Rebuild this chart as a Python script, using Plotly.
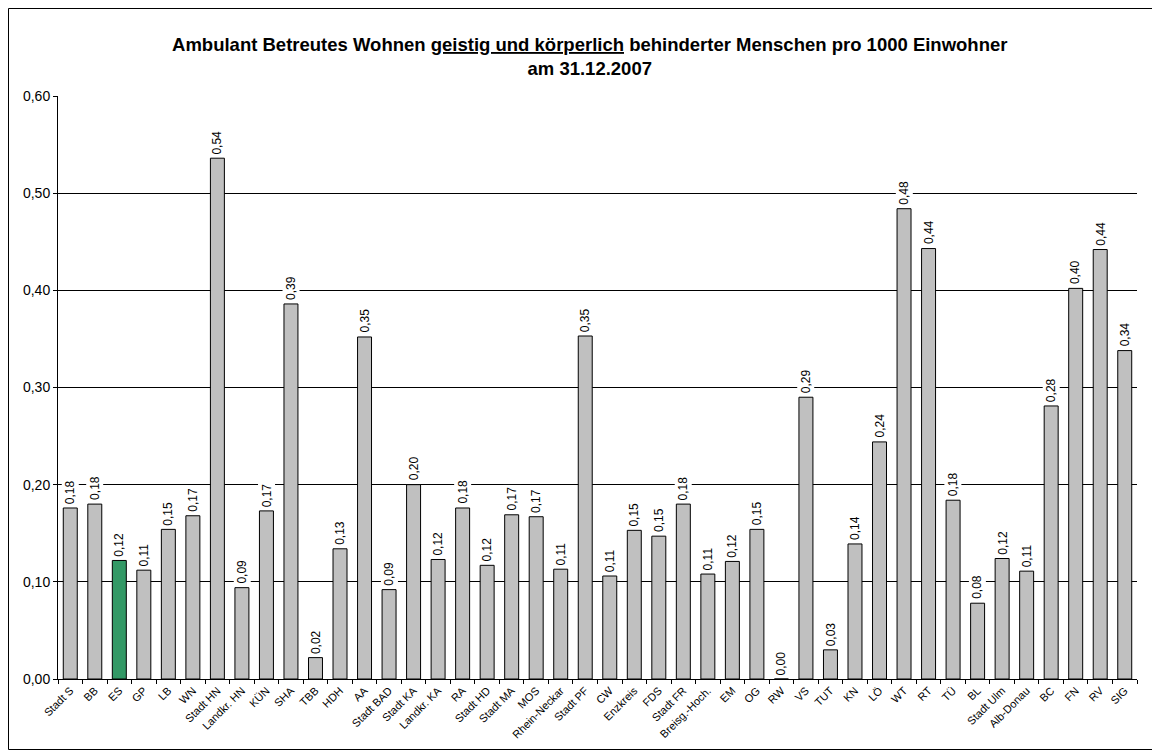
import plotly.graph_objects as go

categories = ["Stadt S", "BB", "ES", "GP", "LB", "WN", "Stadt HN", "Landkr. HN", "KÜN", "SHA",
              "TBB", "HDH", "AA", "Stadt BAD", "Stadt KA", "Landkr. KA", "RA", "Stadt HD", "Stadt MA", "MOS",
              "Rhein-Neckar", "Stadt PF", "CW", "Enzkreis", "FDS", "Stadt FR", "Breisg.-Hoch.", "EM", "OG", "RW",
              "VS", "TUT", "KN", "LÖ", "WT", "RT", "TÜ", "BL", "Stadt Ulm", "Alb-Donau",
              "BC", "FN", "RV", "SIG"]
values = [0.176, 0.180, 0.122, 0.112, 0.154, 0.168, 0.536, 0.094, 0.173, 0.386,
          0.022, 0.134, 0.352, 0.092, 0.200, 0.123, 0.176, 0.117, 0.169, 0.167,
          0.113, 0.353, 0.106, 0.153, 0.147, 0.180, 0.108, 0.121, 0.154, 0.000,
          0.290, 0.030, 0.139, 0.244, 0.484, 0.443, 0.184, 0.078, 0.124, 0.111,
          0.281, 0.402, 0.442, 0.338]
highlight = "ES"
y_ticks = [0.0, 0.1, 0.2, 0.3, 0.4, 0.5, 0.6]

FONT = "Liberation Sans, Arial, sans-serif"
# page has an 8px body margin: figure is sized to fit the window
W, H = 1152, 745
ml, mr, mt, mb = 50, 23, 88, 74

colors = ["#339966" if c == highlight else "#C0C0C0" for c in categories]

fig = go.Figure()
fig.add_trace(go.Bar(
    x=categories, y=values,
    marker=dict(color=colors, line=dict(color="#000000", width=1)),
    width=0.57,
    hoverinfo="x+y",
))

for c, v in zip(categories, values):
    fig.add_annotation(
        x=c, y=v, xref="x", yref="y",
        text=f"{v:.2f}".replace(".", ","),
        textangle=-90, showarrow=False,
        xanchor="center", yanchor="bottom", yshift=2,
        bgcolor="white", borderpad=1,
        font=dict(family=FONT, size=12, color="#000000"),
    )

pw = W - ml - mr
ph = H - mt - mb
fig.add_shape(type="rect", xref="paper", yref="paper",
              x0=(0.5 - ml) / pw, x1=(W - 3.5 - ml) / pw,
              y0=-(mb - 3.5) / ph, y1=1 + (mt - 0.5) / ph,
              line=dict(color="#000000", width=1), fillcolor="rgba(0,0,0,0)", layer="above")

fig.update_layout(
    width=W, height=H,
    margin=dict(l=ml, r=mr, t=mt, b=mb),
    paper_bgcolor="white", plot_bgcolor="white",
    separators=",.",
    showlegend=False,
    font=dict(family=FONT, color="#000000"),
    title=dict(
        text="<b>Ambulant Betreutes Wohnen <u>geistig und körperlich</u> behinderter Menschen pro 1000 Einwohner<br>am 31.12.2007</b>",
        x=0.505, xref="container", xanchor="center",
        y=1 - 43 / H, yref="container", yanchor="top",
        font=dict(size=18.5, family=FONT, color="#000000"),
    ),
    xaxis=dict(
        tickangle=-45, tickfont=dict(size=11),
        ticks="outside", ticklen=4, tickcolor="#000000", tickson="boundaries",
        showline=True, linecolor="#000000", linewidth=1,
        showgrid=False, range=[-0.5, len(categories) - 0.5],
    ),
    yaxis=dict(
        range=[0, 0.6], tickvals=y_ticks, tickformat=".2f",
        tickfont=dict(size=14),
        ticks="outside", ticklen=4, tickcolor="#000000",
        showline=True, linecolor="#000000", linewidth=1,
        showgrid=True, gridcolor="#000000", gridwidth=1,
        zeroline=False,
    ),
)

fig.write_html("out.html")
